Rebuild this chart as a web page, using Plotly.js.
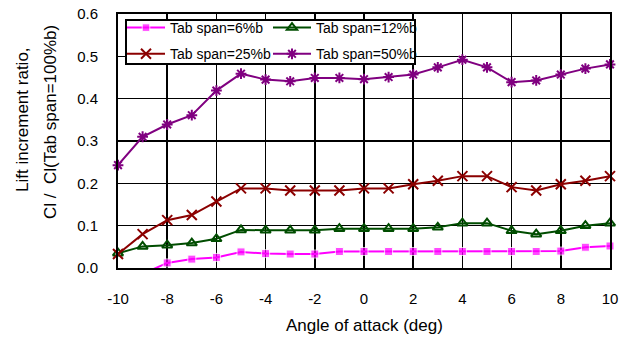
<!DOCTYPE html>
<html>
<head>
<meta charset="utf-8">
<script src="https://cdn.plot.ly/plotly-3.0.1.min.js"></script>
<style>html,body{margin:0;padding:0;background:#fff;}#chart{width:631px;height:338px;}</style>
</head>
<body>
<div id="chart"></div>
<script>
// ---- data ----
const angles = [-10,-9,-8,-7,-6,-5,-4,-3,-2,-1,0,1,2,3,4,5,6,7,8,9,10];
const anglesTab6 = [-9,-8,-7,-6,-5,-4,-3,-2,-1,0,1,2,3,4,5,6,7,8,9,10];
const tab6 = [-0.014,0.012,0.021,0.025,0.038,0.034,0.033,0.033,0.039,0.039,0.039,0.039,0.039,0.039,0.039,0.039,0.039,0.040,0.049,0.052];
const tab12 = [0.035,0.051,0.054,0.059,0.069,0.090,0.089,0.089,0.089,0.093,0.093,0.093,0.093,0.096,0.106,0.106,0.088,0.080,0.088,0.100,0.106];
const tab25 = [0.033,0.080,0.113,0.125,0.157,0.188,0.188,0.183,0.183,0.183,0.188,0.188,0.198,0.206,0.217,0.217,0.191,0.183,0.198,0.206,0.217];
const tab50 = [0.243,0.310,0.339,0.361,0.419,0.459,0.445,0.441,0.449,0.449,0.446,0.451,0.457,0.474,0.492,0.474,0.439,0.443,0.457,0.471,0.481];
const seriesNames = ['Tab span=6%b','Tab span=12%b','Tab span=25%b','Tab span=50%b'];
const yTickVals = [0,0.1,0.2,0.3,0.4,0.5,0.6];
const yTickText = ['0.0','0.1','0.2','0.3','0.4','0.5','0.6'];
const xTickVals = [-10,-8,-6,-4,-2,0,2,4,6,8,10];
const xTickText = ['-10','-8','-6','-4','-2','0','2','4','6','8','10'];

const FONT = 'Liberation Sans, Arial, sans-serif';
const L = 118, R = 21, T = 14, B = 70, W = 631, H = 338;
const pw = W - L - R, ph = H - T - B;
const px2x = p => (p - L) / pw;
const px2y = p => (H - B - p) / ph;

const traces = [
  {x: anglesTab6, y: tab6, name: seriesNames[0], mode: 'lines+markers', legend: 'legend', legendgroup: 'a',
   line: {color: '#FF00FF', width: 2}, cliponaxis: false,
   marker: {symbol: 'square', size: tab6.map(v => v < 0 ? 0 : 8), color: '#FF00FF'}},
  {x: angles, y: tab12, name: seriesNames[1], mode: 'lines+markers', legend: 'legend2', legendgroup: 'b',
   line: {color: '#004d00', width: 2}, cliponaxis: false,
   marker: {symbol: 'triangle-up-open', size: 9, color: '#004d00', line: {width: 2, color: '#004d00'}}},
  {x: angles, y: tab25, name: seriesNames[2], mode: 'lines+markers', legend: 'legend', legendgroup: 'c',
   line: {color: '#8B0000', width: 2}, cliponaxis: false,
   marker: {symbol: 'x-thin-open', size: 10, color: '#8B0000', line: {width: 2, color: '#8B0000'}}},
  {x: angles, y: tab50, name: seriesNames[3], mode: 'lines+markers', legend: 'legend2', legendgroup: 'd',
   line: {color: '#800080', width: 2}, cliponaxis: false,
   marker: {symbol: 'asterisk-open', size: 9, color: '#800080', line: {width: 2, color: '#800080'}}}
];

const legendCommon = {
  orientation: 'v', xanchor: 'left', yanchor: 'top', bgcolor: 'rgba(0,0,0,0)', borderwidth: 0,
  font: {family: FONT, size: 14, color: '#000'}, tracegroupgap: 5, itemwidth: 38
};

const layout = {
  width: W, height: H,
  margin: {l: L, r: R, t: T, b: B, pad: 0},
  paper_bgcolor: '#fff', plot_bgcolor: '#fff',
  font: {family: FONT, size: 15, color: '#000'},
  showlegend: true,
  legend: Object.assign({}, legendCommon, {x: px2x(122), y: px2y(12)}),
  legend2: Object.assign({}, legendCommon, {x: px2x(268), y: px2y(12)}),
  xaxis: {
    range: [-10, 10], tickvals: xTickVals, ticktext: xTickText, showgrid: true, gridcolor: '#000', gridwidth: 1.5,
    zeroline: false, showline: true, mirror: true, linecolor: '#000', linewidth: 2,
    ticks: '', ticklabelstandoff: 16, tickfont: {family: FONT, size: 15, color: '#000'}, fixedrange: true
  },
  yaxis: {
    range: [0, 0.6], tickvals: yTickVals, ticktext: yTickText, showgrid: true, gridcolor: '#000', gridwidth: 1.5,
    zeroline: false, showline: true, mirror: true, linecolor: '#000', linewidth: 2,
    ticks: '', ticklabelstandoff: 15, tickfont: {family: FONT, size: 15, color: '#000'}, fixedrange: true
  },
  shapes: [
    {type: 'rect', xref: 'paper', yref: 'paper', x0: px2x(126), x1: px2x(415), y0: px2y(64), y1: px2y(20),
     fillcolor: '#fff', line: {color: '#000', width: 2}, layer: 'above'}
  ],
  annotations: [
    {text: 'Angle of attack (deg)', xref: 'paper', yref: 'paper', x: 0.5, y: px2y(325),
     xanchor: 'center', yanchor: 'middle', showarrow: false, font: {family: FONT, size: 17, color: '#000'}},
    {text: 'Lift increment ratio,', xref: 'paper', yref: 'paper', x: px2x(22), y: px2y(120), textangle: -90,
     xanchor: 'center', yanchor: 'middle', showarrow: false, font: {family: FONT, size: 17, color: '#000'}},
    {text: 'Cl /  Cl(Tab span=100%b)', xref: 'paper', yref: 'paper', x: px2x(50), y: px2y(122), textangle: -90,
     xanchor: 'center', yanchor: 'middle', showarrow: false, font: {family: FONT, size: 17, color: '#000'}}
  ]
};

Plotly.newPlot('chart', traces, layout, {displayModeBar: false, staticPlot: true});
</script>
</body>
</html>
